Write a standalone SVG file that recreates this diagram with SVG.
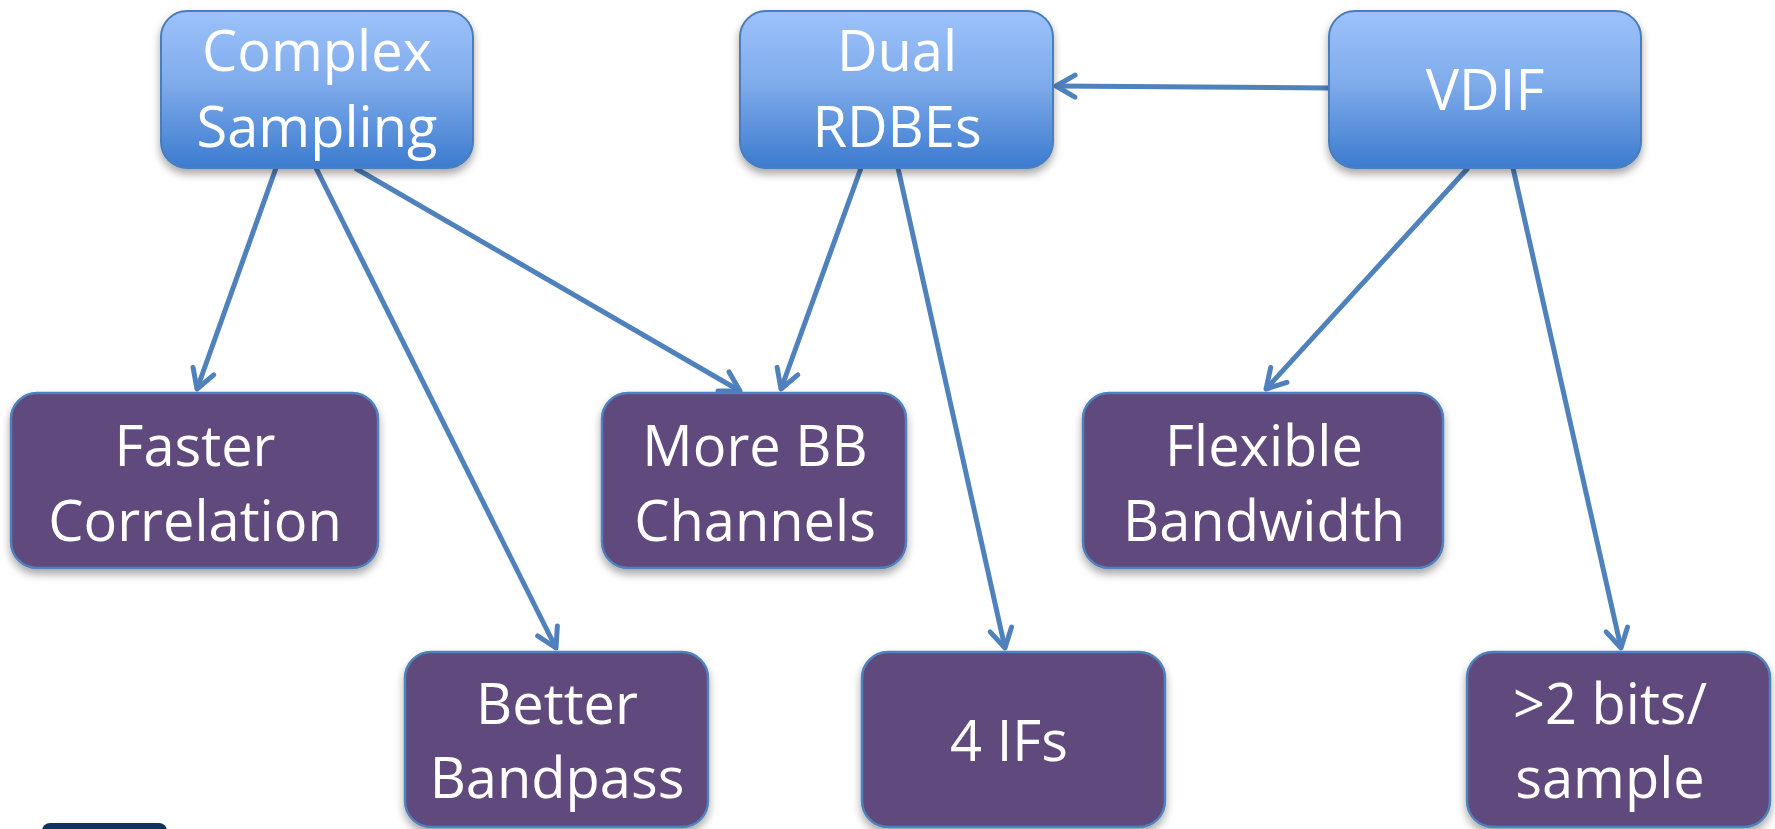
<svg xmlns="http://www.w3.org/2000/svg" width="1775" height="829" viewBox="0 0 1775 829">
<defs>
<linearGradient id="blue" x1="0" y1="0" x2="0" y2="1">
<stop offset="0" stop-color="#9cc2fb"/>
<stop offset="0.45" stop-color="#80aceb"/>
<stop offset="1" stop-color="#3c7bcf"/>
</linearGradient>
<filter id="sh" x="-10%" y="-10%" width="120%" height="130%">
<feDropShadow dx="0" dy="5" stdDeviation="4" flood-color="#000" flood-opacity="0.35"/>
</filter>
<marker id="arr" markerUnits="userSpaceOnUse" markerWidth="30" markerHeight="30" viewBox="0 0 30 30" refX="24" refY="15" orient="auto">
<path d="M5,4 L24,15 L5,26" fill="none" stroke="#4f81bd" stroke-width="5" stroke-linecap="round" stroke-linejoin="round"/>
</marker>
</defs>
<style>
.top rect{fill:url(#blue);stroke:#4a7ebb;stroke-width:2;filter:url(#sh)}
.bot rect{fill:#604a7b;stroke:#4f81bd;stroke-width:2.5;filter:url(#sh)}
text{font-family:"Open Sans","Noto Sans",sans-serif;font-size:56px;fill:#fff;text-anchor:middle}
.edges line{stroke:#4f81bd;stroke-width:5;marker-end:url(#arr)}
</style>
<rect width="1775" height="829" fill="#fff"/>
<rect x="42" y="823" width="125" height="20" rx="8" fill="#0d3560"/>
<g class="edges">
<line x1="276" y1="168" x2="197" y2="389"/>
<line x1="316" y1="168" x2="556" y2="648"/>
<line x1="355" y1="168" x2="740" y2="391"/>
<line x1="861" y1="168" x2="781" y2="389"/>
<line x1="898" y1="168" x2="1005" y2="648"/>
<line x1="1329" y1="88" x2="1056" y2="86"/>
<line x1="1468" y1="168" x2="1266" y2="389"/>
<line x1="1513" y1="168" x2="1621" y2="648"/>
</g>
<g id="complex" class="top"><rect x="161" y="11" width="312" height="157" rx="26"/><text x="317" y="71">Complex</text><text x="317" y="147">Sampling</text></g>
<g id="dual" class="top"><rect x="740" y="11" width="313" height="157" rx="26"/><text x="897" y="71">Dual</text><text x="897" y="147">RDBEs</text></g>
<g id="vdif" class="top"><rect x="1329" y="11" width="312" height="157" rx="26"/><text x="1485" y="110">VDIF</text></g>
<g id="faster" class="bot"><rect x="11" y="393" width="367" height="175" rx="26"/><text x="195" y="466">Faster</text><text x="195" y="541">Correlation</text></g>
<g id="morebb" class="bot"><rect x="602" y="393" width="304" height="175" rx="26"/><text x="755" y="466">More BB</text><text x="755" y="541">Channels</text></g>
<g id="flexible" class="bot"><rect x="1083" y="393" width="360" height="175" rx="26"/><text x="1264" y="466">Flexible</text><text x="1264" y="541">Bandwidth</text></g>
<g id="better" class="bot"><rect x="405" y="652" width="303" height="175" rx="26"/><text x="557" y="724">Better</text><text x="557" y="798">Bandpass</text></g>
<g id="fourifs" class="bot"><rect x="862" y="652" width="303" height="175" rx="26"/><text x="1009" y="761">4 IFs</text></g>
<g id="bits" class="bot"><rect x="1467" y="652" width="303" height="175" rx="26"/><text x="1610" y="724">&gt;2 bits/</text><text x="1610" y="798">sample</text></g>
</svg>
